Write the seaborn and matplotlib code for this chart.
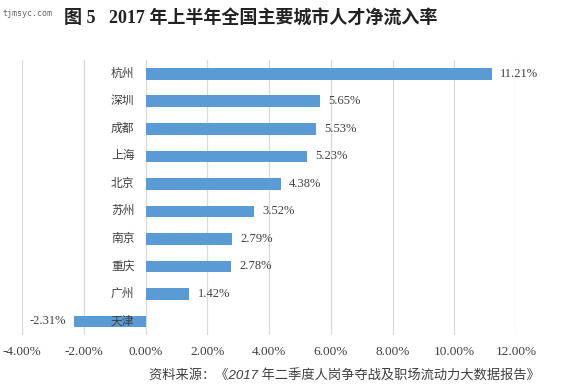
import matplotlib
matplotlib.use("Agg")
import matplotlib.pyplot as plt
import seaborn as sns
import pandas as pd

cities = ["杭州", "深圳", "成都", "上海", "北京", "苏州", "南京", "重庆", "广州", "天津"]
rates = [11.21, 5.65, 5.53, 5.23, 4.38, 3.52, 2.79, 2.78, 1.42, -2.31]
x_ticks = [-4, -2, 0, 2, 4, 6, 8, 10, 12]

title = "图 5   2017 年上半年全国主要城市人才净流入率"
source = "资料来源：《2017 年二季度人岗争夺战及职场流动力大数据报告》"

sns.set_style("white")
plt.rcParams["font.family"] = ["Liberation Serif", "Noto Sans CJK SC", "DejaVu Sans"]

df = pd.DataFrame({"city": cities, "rate": rates})

fig = plt.figure(figsize=(5.64, 3.87), dpi=100)
ax = fig.add_axes([0.039, 0.134, 0.876, 0.711])
sns.barplot(data=df, x="rate", y="city", orient="h", color="#5B9BD5",
            saturation=1, width=0.42, linewidth=0, ax=ax, zorder=3)

ax.set_xlim(-4, 12)
ax.set_ylim(len(cities) - 0.5, -0.5)
ax.set_xticks(x_ticks)
ax.set_xticklabels([f"{t:.2f}%" for t in x_ticks], fontsize=9.5, color="#404040")
ax.tick_params(axis="x", length=0, pad=8)
ax.set_yticks([])
ax.set_xlabel("")
ax.set_ylabel("")
for s in ax.spines.values():
    s.set_visible(False)
ax.grid(axis="x", color="#d9d9d9", lw=0.9, zorder=0)

for i, (c, v) in enumerate(zip(cities, rates)):
    ax.annotate(c, (0, i), xytext=(-8, 0), textcoords="offset points",
                ha="right", va="center", fontsize=8.5, color="#404040", zorder=4)
    if v >= 0:
        ax.annotate(f"{v:.2f}%", (v, i), xytext=(6, 0), textcoords="offset points",
                    ha="left", va="center", fontsize=9, color="#404040")
    else:
        ax.annotate(f"{v:.2f}%", (v, i), xytext=(-6, 0), textcoords="offset points",
                    ha="right", va="center", fontsize=9, color="#404040")

fig.text(0.445, 0.953, title, ha="center", va="center", fontsize=13,
         fontweight="bold", color="#222222")
fig.text(0.005, 0.965, "tjmsyc.com", ha="left", va="center", fontsize=6,
         color="#666666", family=["DejaVu Sans Mono"])
fig.text(0.958, 0.028, source, ha="right", va="center", fontsize=9.5,
         style="italic", color="#404040", family=["Liberation Sans", "Noto Sans CJK SC"])

fig.savefig("out.png", dpi=100)
